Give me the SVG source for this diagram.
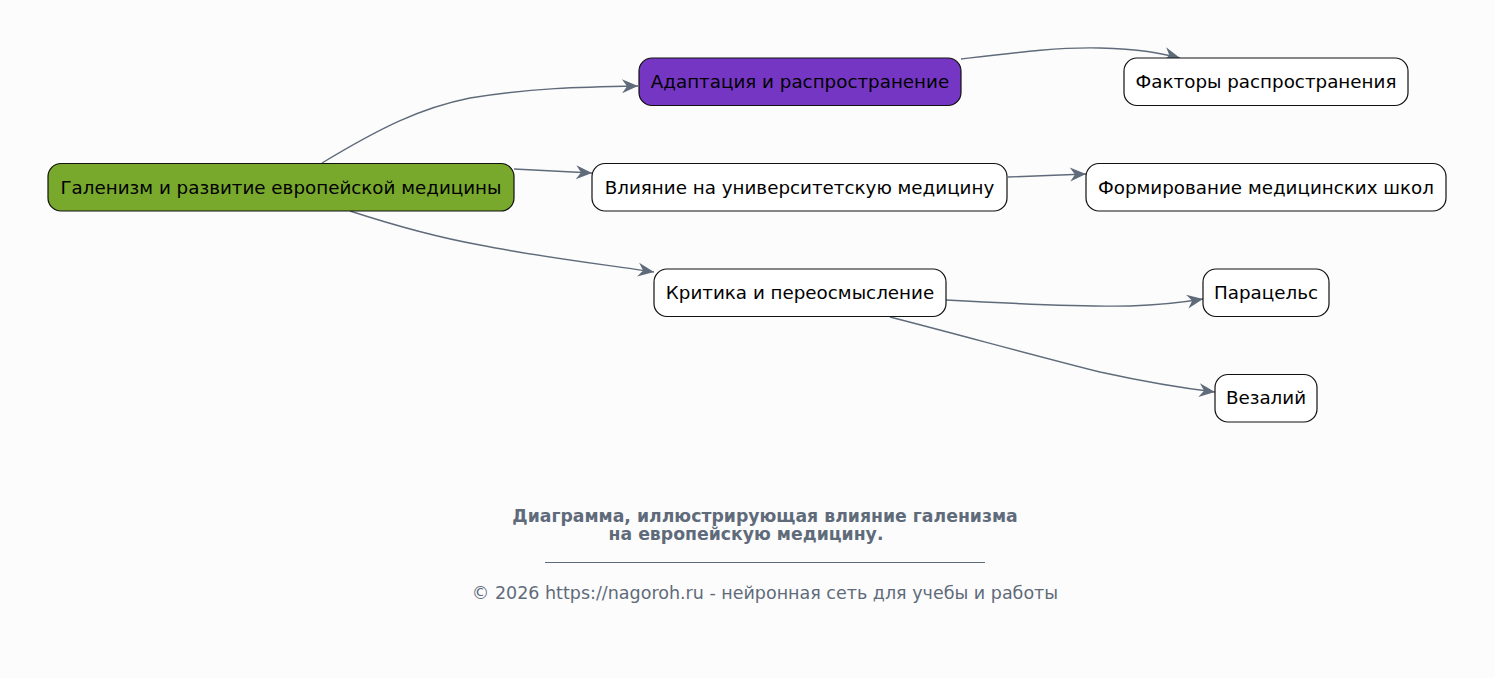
<svg xmlns="http://www.w3.org/2000/svg" width="1495" height="678" viewBox="0 0 1495 678">
<style>
.n rect{stroke:#111;stroke-width:1.2}
.n text{font-family:"DejaVu Sans",sans-serif;font-size:18.3px;fill:#000;text-anchor:middle}
.e path{fill:none;stroke:#5f6b7a;stroke-width:1.4;marker-end:url(#arr)}
.cap{font-family:"DejaVu Sans",sans-serif;fill:#5f6b7a;text-anchor:middle}
</style>
<defs>
<marker id="arr" markerUnits="userSpaceOnUse" markerWidth="20" markerHeight="16" refX="17" refY="8" orient="auto">
<path d="M1,1 L17,8 L1,15 L6,8 Z" fill="#5f6b7a"/>
</marker>
</defs>
<rect width="1495" height="678" fill="#fcfcfc"/>
<g class="e" id="connectors">
<path d="M322,163 C380,128 420,108 470,98 C530,88 580,87 638,86"/>
<path d="M514,169 L592,173"/>
<path d="M350,211 C390,224 430,236 480,245 C540,257 600,264 654,272"/>
<path d="M961,59 C1020,52 1060,47 1100,48 C1140,49 1160,53 1180,58"/>
<path d="M1008,177 L1086,174"/>
<path d="M946,300 C1020,304 1080,307 1130,306 C1160,305 1185,302 1203,299"/>
<path d="M890,317 C960,335 1040,357 1100,372 C1150,383 1190,389 1215,392"/>
</g>
<g class="n" id="root"><rect x="48" y="163.5" width="466" height="47.5" rx="13" fill="#78a92c"/><text x="281" y="193.5">Галенизм и развитие европейской медицины</text></g>
<g class="n" id="adapt"><rect x="639" y="58" width="322" height="47.5" rx="13" fill="#7636c4"/><text x="800" y="88">Адаптация и распространение</text></g>
<g class="n" id="factors"><rect x="1124" y="58" width="284" height="47.5" rx="13" fill="#fff"/><text x="1266" y="88">Факторы распространения</text></g>
<g class="n" id="influence"><rect x="592" y="163.5" width="415" height="47.5" rx="13" fill="#fff"/><text x="799.5" y="193.5">Влияние на университетскую медицину</text></g>
<g class="n" id="schools"><rect x="1086" y="163.5" width="360" height="47.5" rx="13" fill="#fff"/><text x="1266" y="193.5">Формирование медицинских школ</text></g>
<g class="n" id="critique"><rect x="654" y="269" width="292" height="47.5" rx="13" fill="#fff"/><text x="800" y="299">Критика и переосмысление</text></g>
<g class="n" id="paracelsus"><rect x="1203" y="269" width="126" height="47.5" rx="13" fill="#fff"/><text x="1266" y="299">Парацельс</text></g>
<g class="n" id="vesalius"><rect x="1215" y="374.5" width="102" height="47.5" rx="13" fill="#fff"/><text x="1266" y="404">Везалий</text></g>
<g id="caption">
<text class="cap" x="765" y="522" font-size="17.3" font-weight="bold">Диаграмма, иллюстрирующая влияние галенизма</text>
<text class="cap" x="746" y="540" font-size="17.3" font-weight="bold">на европейскую медицину.</text>
<line x1="545" y1="562.5" x2="985" y2="562.5" stroke="#5f6b7a" stroke-width="1"/>
<text class="cap" x="765" y="599" font-size="17.5">© 2026 https://nagoroh.ru - нейронная сеть для учебы и работы</text>
</g>
</svg>
